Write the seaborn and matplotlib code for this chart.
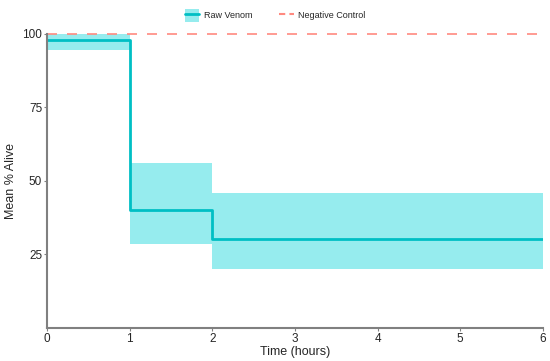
import matplotlib
matplotlib.use("Agg")
import matplotlib.pyplot as plt
import seaborn as sns
import pandas as pd
from matplotlib.patches import Patch
from matplotlib.lines import Line2D

time_hours = [0, 1, 2, 6]
mean_alive = [98.1, 40.0, 30.1, 30.1]
lower_ci = [94.6, 28.5, 19.9, 19.9]
upper_ci = [100.0, 56.2, 45.8, 45.8]
control_level = 100
x_ticks = [0, 1, 2, 3, 4, 5, 6]
y_ticks = [25, 50, 75, 100]

sns.set_theme(style="white")
plt.rcParams['font.family'] = ['Liberation Sans', 'DejaVu Sans']

df = pd.DataFrame({"Time": time_hours, "Mean": mean_alive})

fig = plt.figure(figsize=(5.5, 3.61), dpi=100)
ax = fig.add_axes([0.0855, 0.0914, 0.9015, 0.8146])

line_col = "#00BFC4"
fill_col = "#96ECEE"
ctrl_col = "#FF8A80"

ax.fill_between(time_hours, lower_ci, upper_ci, step="post", color=fill_col, linewidth=0)
sns.lineplot(data=df, x="Time", y="Mean", drawstyle="steps-post", color=line_col,
             linewidth=2, ax=ax)
ax.axhline(control_level, color=ctrl_col, linestyle=(0, (6, 6)), linewidth=1.2, clip_on=False)

ax.set_xlim(0, 6)
ax.set_ylim(0, 100)
ax.set_xticks(x_ticks)
ax.set_yticks(y_ticks)
ax.tick_params(axis="both", labelsize=8.5, length=2, width=0.8, color="#808080",
               bottom=True, left=True, pad=1.5)
for s in ["top", "right"]:
    ax.spines[s].set_visible(False)
for s in ["left", "bottom"]:
    ax.spines[s].set_color("#808080")
    ax.spines[s].set_linewidth(1.5)
ax.set_xlabel("Time (hours)", fontsize=9, labelpad=1)
ax.set_ylabel("Mean % Alive", fontsize=9, labelpad=4)

handles = [
    (Patch(facecolor=fill_col, edgecolor="none"), Line2D([], [], color=line_col, linewidth=2)),
    Line2D([], [], color=ctrl_col, linestyle=(0, (3, 2)), linewidth=1.5),
]
ax.legend(handles=handles, labels=["Raw Venom", "Negative Control"], loc="lower center",
          bbox_to_anchor=(0.46, 1.012), ncol=2, frameon=False, fontsize=6.5,
          handlelength=1.6, handleheight=1.9, columnspacing=3, handletextpad=0.5)

fig.savefig("out.png", dpi=100)
